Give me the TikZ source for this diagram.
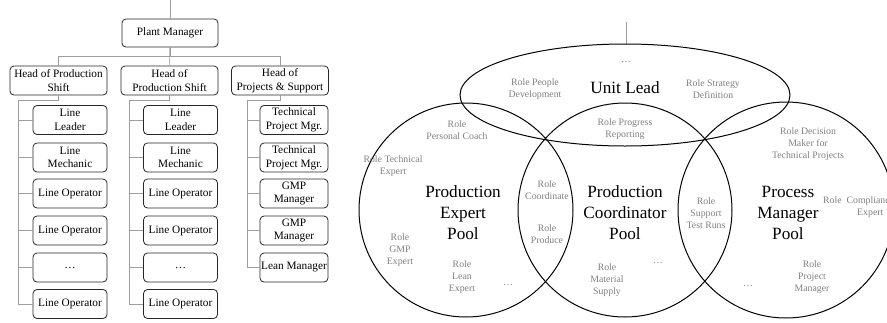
\documentclass[tikz,border=0pt]{standalone}
\usepackage{fontspec}
\setmainfont{Liberation Serif}
\usepackage{tikz}

\begin{document}
\begin{tikzpicture}[
		x=1pt, y=-1pt,
		box/.style={rectangle, draw=black!85, rounded corners=4pt, line width=0.8pt, align=center, inner sep=1pt, font=\fontsize{11.3}{13.6}\selectfont},
		headbox/.style={box, minimum width=97pt, minimum height=29pt},
		leafbox/.style={box, minimum width=74pt, minimum height=29pt},
		link/.style={draw=black!38, line width=0.8pt},
		ring/.style={draw=black, line width=1pt},
		role/.style={align=center, inner sep=0pt, text=black!50, font=\fontsize{9.8}{12}\selectfont},
		pool/.style={align=center, inner sep=0pt, font=\fontsize{17.2}{21}\selectfont}
	]
  \useasboundingbox (0,0) rectangle (887,322);

  % org chart
  \node (pm) [box, minimum width=96pt, minimum height=28pt] at (170,33) {Plant Manager};
  \node (h1) [headbox] at (58.5,80.5) {Head of Production\\Shift};
  \node (h2) [headbox] at (169.5,80.5) {Head of\\Production Shift};
  \node (h3) [headbox] at (280,80.5) {Head of\\Projects \& Support};

  \node (lead1) [leafbox] at (70,120) {Line\\Leader};
  \node (mech1) [leafbox] at (70,157.5) {Line\\Mechanic};
  \node (opa1) [leafbox] at (70,193.5) {Line Operator};
  \node (opb1) [leafbox] at (70,230.5) {Line Operator};
  \node (more1) [leafbox] at (70,267.5) {\dots};
  \node (opc1) [leafbox] at (70,304) {Line Operator};

  \node (lead2) [leafbox] at (180.5,120) {Line\\Leader};
  \node (mech2) [leafbox] at (180.5,157.5) {Line\\Mechanic};
  \node (opa2) [leafbox] at (180.5,193.5) {Line Operator};
  \node (opb2) [leafbox] at (180.5,230.5) {Line Operator};
  \node (more2) [leafbox] at (180.5,267.5) {\dots};
  \node (opc2) [leafbox] at (180.5,304) {Line Operator};

  \node (tpa) [leafbox, minimum width=68pt] at (294,120) {Technical\\Project Mgr.};
  \node (tpb) [leafbox, minimum width=68pt] at (294,157.5) {Technical\\Project Mgr.};
  \node (gmpa) [leafbox, minimum width=68pt] at (294,193.5) {GMP\\Manager};
  \node (gmpb) [leafbox, minimum width=68pt] at (294,230.5) {GMP\\Manager};
  \node (lean) [leafbox, minimum width=68pt] at (294,267.5) {Lean Manager};

  \coordinate (top) at (170,0);
  \coordinate (s1) at (18,100);
  \coordinate (s2) at (129,100);
  \coordinate (s3) at (247,100);

  \draw [link] (top) -- (pm);
  \draw [link] (pm) -- (h2);
  \draw [link] (pm.south) -- ++(0,9) -| (h1.north);
  \draw [link] (pm.south) -- ++(0,9) -| (h3.north);

  \draw [link] (h1.south) |- (s1);
  \draw [link] (s1) |- (lead1.west);
  \draw [link] (s1) |- (mech1.west);
  \draw [link] (s1) |- (opa1.west);
  \draw [link] (s1) |- (opb1.west);
  \draw [link] (s1) |- (more1.west);
  \draw [link] (s1) |- (opc1.west);

  \draw [link] (h2.south) |- (s2);
  \draw [link] (s2) |- (lead2.west);
  \draw [link] (s2) |- (mech2.west);
  \draw [link] (s2) |- (opa2.west);
  \draw [link] (s2) |- (opb2.west);
  \draw [link] (s2) |- (more2.west);
  \draw [link] (s2) |- (opc2.west);

  \draw [link] (h3.south) |- (s3);
  \draw [link] (s3) |- (tpa.west);
  \draw [link] (s3) |- (tpb.west);
  \draw [link] (s3) |- (gmpa.west);
  \draw [link] (s3) |- (gmpb.west);
  \draw [link] (s3) |- (lean.west);

  % role pools
  \coordinate (vtop) at (626,22);
  \coordinate (vend) at (626,44);
  \draw [link] (vtop) -- (vend);

  \draw [ring] (625,95) ellipse [x radius=165pt, y radius=51pt];
  \draw [ring] (466,210) circle [radius=107pt];
  \draw [ring] (625,210) circle [radius=107pt];
  \draw [ring] (786,210) circle [radius=108pt];

  \node (unit) [pool] at (625,88) {Unit Lead};
  \node (pexp) [pool] at (463,213) {Production\\Expert\\Pool};
  \node (pcoord) [pool] at (625,213) {Production\\Coordinator\\Pool};
  \node (pman) [pool] at (788,213) {Process\\Manager\\Pool};

  \node (udots) [role] at (626,62) {\dots};
  \node (rpeople) [role] at (535,89) {Role People\\Development};
  \node (rstrat) [role] at (713,89) {Role Strategy\\Definition};
  \node (rprog) [role] at (625,129) {Role Progress\\Reporting};
  \node (rcoach) [role] at (457,130) {Role\\Personal Coach};
  \node (rtech) [role] at (393,166) {Role Technical\\Expert};
  \node (rcoord) [role] at (547,190) {Role\\Coordinate};
  \node (rprod) [role] at (547,234) {Role\\Produce};
  \node (rgmp) [role] at (400,250) {Role\\GMP\\Expert};
  \node (rlean) [role] at (462,277) {Role\\Lean\\Expert};
  \node (edots) [role] at (508,285) {\dots};
  \node (rmat) [role] at (607,280) {Role\\Material\\Supply};
  \node (cdots) [role] at (658,263) {\dots};
  \node (rtest) [role] at (706,213) {Role\\Support\\Test Runs};
  \node (rdec) [role] at (808,144) {Role Decision\\Maker for\\Technical Projects};
  \node (rcomp) [role, anchor=north west] at (823,195) {Role\ \ \begin{tabular}[t]{@{}c@{}}Compliance\\Expert\end{tabular}};
  \node (rproj) [role] at (812,277) {Role\\Project\\Manager};
  \node (mdots) [role] at (748,286) {\dots};
\end{tikzpicture}
\end{document}
